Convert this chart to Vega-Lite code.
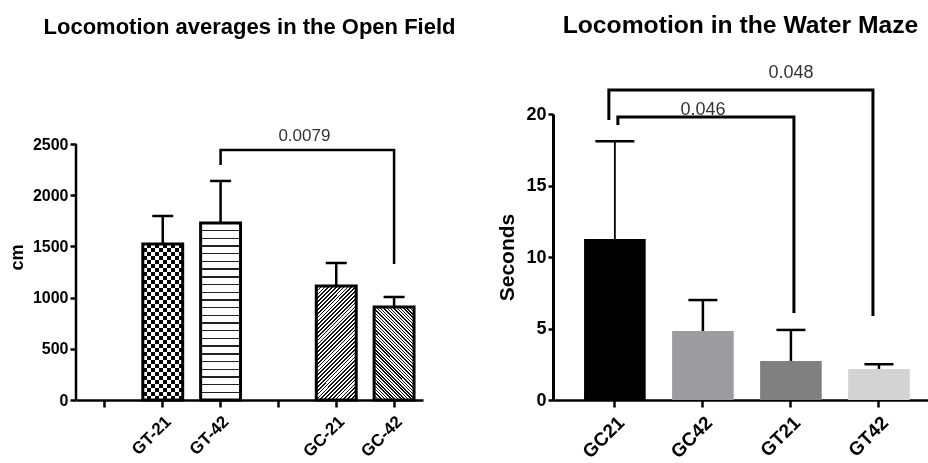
{
"$schema":"https://vega.github.io/schema/vega-lite/v6.json",
"padding":{"left":8,"top":13,"right":0,"bottom":0},
"background":"white",
"spacing":130,
"bounds":"flush",
"config":{"view":{"stroke":null},"font":"Liberation Sans",
"title":{"font":"Liberation Sans","fontWeight":"bold","color":"#000","anchor":"middle"},
"axis":{"domainColor":"#000","domainWidth":2.5,"tickColor":"#000","tickWidth":2.5,"labelColor":"#000","labelFontWeight":"bold","titleFontWeight":"bold","titleColor":"#000","labelFont":"Liberation Sans","titleFont":"Liberation Sans","grid":false},
"text":{"font":"Liberation Sans"}},
"hconcat":[
{
"width":347,"height":286,
"title":{"text":"Locomotion averages in the Open Field","fontSize":22,"offset":75},
"data":{"values":[
{"group":"GT-21","mean":1523,"upper":1797},
{"group":"GT-42","mean":1729,"upper":2139},
{"group":"GC-21","mean":1113,"upper":1338},
{"group":"GC-42","mean":908,"upper":1006}]},
"encoding":{"x":{"field":"group","type":"nominal","sort":null,"scale":{"domain":["gap1","GT-21","GT-42","gap2","GC-21","GC-42"],"paddingInner":0.31,"paddingOuter":0.155},"axis":{"title":null,"labelAngle":-45,"labelFontSize":17,"tickSize":7,"labelPadding":6,"labelExpr":"indexof(datum.value, 'gap') === 0 ? '' : datum.value"}}},
"resolve":{"axis":{"y":"independent"}},
"layer":[
{"data":{"values":[{"lo":0,"hi":2500}]},"mark":{"type":"rule","strokeWidth":2.5,"color":"#000"},
"encoding":{"x":{"value":0},"y":{"field":"lo","type":"quantitative","scale":{"domain":[0,2793]},"axis":{"title":"cm","values":[0,500,1000,1500,2000,2500],"format":"d","domain":false,"labelFontSize":16,"titleFontSize":18,"tickSize":6,"labelPadding":2,"titlePadding":6}},"y2":{"field":"hi"}}},
{"encoding":{"y":{"field":"mean","type":"quantitative","scale":{"domain":[0,2793]},"axis":null}},
"resolve":{"axis":{"y":"independent"}},
"layer":[
{"transform":[{"filter":"datum.group === 'GT-21'"}],"mark":{"type":"bar","fill":{"gradient":"linear","x1":0,"y1":0,"x2":1,"y2":0,"stops":[{"offset":0,"color":"#000"},{"offset":0.1,"color":"#000"},{"offset":0.1,"color":"#fff"},{"offset":0.2,"color":"#fff"},{"offset":0.2,"color":"#000"},{"offset":0.3,"color":"#000"},{"offset":0.3,"color":"#fff"},{"offset":0.4,"color":"#fff"},{"offset":0.4,"color":"#000"},{"offset":0.5,"color":"#000"},{"offset":0.5,"color":"#fff"},{"offset":0.6,"color":"#fff"},{"offset":0.6,"color":"#000"},{"offset":0.7,"color":"#000"},{"offset":0.7,"color":"#fff"},{"offset":0.8,"color":"#fff"},{"offset":0.8,"color":"#000"},{"offset":0.9,"color":"#000"},{"offset":0.9,"color":"#fff"},{"offset":1,"color":"#fff"}]}}},
{"transform":[{"filter":"datum.group === 'GT-21'"}],"mark":{"type":"bar","blend":"difference","fill":{"gradient":"linear","x1":0,"y1":0,"x2":0,"y2":1,"stops":[
{"offset":0,"color":"#fff"},{"offset":0.0256,"color":"#fff"},
{"offset":0.0256,"color":"#000"},{"offset":0.0513,"color":"#000"},
{"offset":0.0513,"color":"#fff"},{"offset":0.0769,"color":"#fff"},
{"offset":0.0769,"color":"#000"},{"offset":0.1026,"color":"#000"},
{"offset":0.1026,"color":"#fff"},{"offset":0.1282,"color":"#fff"},
{"offset":0.1282,"color":"#000"},{"offset":0.1538,"color":"#000"},
{"offset":0.1538,"color":"#fff"},{"offset":0.1795,"color":"#fff"},
{"offset":0.1795,"color":"#000"},{"offset":0.2051,"color":"#000"},
{"offset":0.2051,"color":"#fff"},{"offset":0.2308,"color":"#fff"},
{"offset":0.2308,"color":"#000"},{"offset":0.2564,"color":"#000"},
{"offset":0.2564,"color":"#fff"},{"offset":0.2821,"color":"#fff"},
{"offset":0.2821,"color":"#000"},{"offset":0.3077,"color":"#000"},
{"offset":0.3077,"color":"#fff"},{"offset":0.3333,"color":"#fff"},
{"offset":0.3333,"color":"#000"},{"offset":0.359,"color":"#000"},
{"offset":0.359,"color":"#fff"},{"offset":0.3846,"color":"#fff"},
{"offset":0.3846,"color":"#000"},{"offset":0.4103,"color":"#000"},
{"offset":0.4103,"color":"#fff"},{"offset":0.4359,"color":"#fff"},
{"offset":0.4359,"color":"#000"},{"offset":0.4615,"color":"#000"},
{"offset":0.4615,"color":"#fff"},{"offset":0.4872,"color":"#fff"},
{"offset":0.4872,"color":"#000"},{"offset":0.5128,"color":"#000"},
{"offset":0.5128,"color":"#fff"},{"offset":0.5385,"color":"#fff"},
{"offset":0.5385,"color":"#000"},{"offset":0.5641,"color":"#000"},
{"offset":0.5641,"color":"#fff"},{"offset":0.5897,"color":"#fff"},
{"offset":0.5897,"color":"#000"},{"offset":0.6154,"color":"#000"},
{"offset":0.6154,"color":"#fff"},{"offset":0.641,"color":"#fff"},
{"offset":0.641,"color":"#000"},{"offset":0.6667,"color":"#000"},
{"offset":0.6667,"color":"#fff"},{"offset":0.6923,"color":"#fff"},
{"offset":0.6923,"color":"#000"},{"offset":0.7179,"color":"#000"},
{"offset":0.7179,"color":"#fff"},{"offset":0.7436,"color":"#fff"},
{"offset":0.7436,"color":"#000"},{"offset":0.7692,"color":"#000"},
{"offset":0.7692,"color":"#fff"},{"offset":0.7949,"color":"#fff"},
{"offset":0.7949,"color":"#000"},{"offset":0.8205,"color":"#000"},
{"offset":0.8205,"color":"#fff"},{"offset":0.8462,"color":"#fff"},
{"offset":0.8462,"color":"#000"},{"offset":0.8718,"color":"#000"},
{"offset":0.8718,"color":"#fff"},{"offset":0.8974,"color":"#fff"},
{"offset":0.8974,"color":"#000"},{"offset":0.9231,"color":"#000"},
{"offset":0.9231,"color":"#fff"},{"offset":0.9487,"color":"#fff"},
{"offset":0.9487,"color":"#000"},{"offset":0.9744,"color":"#000"},
{"offset":0.9744,"color":"#fff"},{"offset":1,"color":"#fff"}]}}},
{"transform":[{"filter":"datum.group === 'GT-42'"}],"mark":{"type":"bar","fill":{"gradient":"linear","x1":0,"y1":0,"x2":0,"y2":1,"stops":[
{"offset":0,"color":"#fff"},
{"offset":0.0395,"color":"#fff"},{"offset":0.0395,"color":"#222"},{"offset":0.0475,"color":"#222"},{"offset":0.0475,"color":"#fff"},
{"offset":0.083,"color":"#fff"},{"offset":0.083,"color":"#222"},{"offset":0.091,"color":"#222"},{"offset":0.091,"color":"#fff"},
{"offset":0.1264,"color":"#fff"},{"offset":0.1264,"color":"#222"},{"offset":0.1344,"color":"#222"},{"offset":0.1344,"color":"#fff"},
{"offset":0.1699,"color":"#fff"},{"offset":0.1699,"color":"#222"},{"offset":0.1779,"color":"#222"},{"offset":0.1779,"color":"#fff"},
{"offset":0.2134,"color":"#fff"},{"offset":0.2134,"color":"#222"},{"offset":0.2214,"color":"#222"},{"offset":0.2214,"color":"#fff"},
{"offset":0.2569,"color":"#fff"},{"offset":0.2569,"color":"#222"},{"offset":0.2649,"color":"#222"},{"offset":0.2649,"color":"#fff"},
{"offset":0.3003,"color":"#fff"},{"offset":0.3003,"color":"#222"},{"offset":0.3083,"color":"#222"},{"offset":0.3083,"color":"#fff"},
{"offset":0.3438,"color":"#fff"},{"offset":0.3438,"color":"#222"},{"offset":0.3518,"color":"#222"},{"offset":0.3518,"color":"#fff"},
{"offset":0.3873,"color":"#fff"},{"offset":0.3873,"color":"#222"},{"offset":0.3953,"color":"#222"},{"offset":0.3953,"color":"#fff"},
{"offset":0.4308,"color":"#fff"},{"offset":0.4308,"color":"#222"},{"offset":0.4388,"color":"#222"},{"offset":0.4388,"color":"#fff"},
{"offset":0.4743,"color":"#fff"},{"offset":0.4743,"color":"#222"},{"offset":0.4823,"color":"#222"},{"offset":0.4823,"color":"#fff"},
{"offset":0.5177,"color":"#fff"},{"offset":0.5177,"color":"#222"},{"offset":0.5257,"color":"#222"},{"offset":0.5257,"color":"#fff"},
{"offset":0.5612,"color":"#fff"},{"offset":0.5612,"color":"#222"},{"offset":0.5692,"color":"#222"},{"offset":0.5692,"color":"#fff"},
{"offset":0.6047,"color":"#fff"},{"offset":0.6047,"color":"#222"},{"offset":0.6127,"color":"#222"},{"offset":0.6127,"color":"#fff"},
{"offset":0.6482,"color":"#fff"},{"offset":0.6482,"color":"#222"},{"offset":0.6562,"color":"#222"},{"offset":0.6562,"color":"#fff"},
{"offset":0.6917,"color":"#fff"},{"offset":0.6917,"color":"#222"},{"offset":0.6997,"color":"#222"},{"offset":0.6997,"color":"#fff"},
{"offset":0.7351,"color":"#fff"},{"offset":0.7351,"color":"#222"},{"offset":0.7431,"color":"#222"},{"offset":0.7431,"color":"#fff"},
{"offset":0.7786,"color":"#fff"},{"offset":0.7786,"color":"#222"},{"offset":0.7866,"color":"#222"},{"offset":0.7866,"color":"#fff"},
{"offset":0.8221,"color":"#fff"},{"offset":0.8221,"color":"#222"},{"offset":0.8301,"color":"#222"},{"offset":0.8301,"color":"#fff"},
{"offset":0.8656,"color":"#fff"},{"offset":0.8656,"color":"#222"},{"offset":0.8736,"color":"#222"},{"offset":0.8736,"color":"#fff"},
{"offset":0.909,"color":"#fff"},{"offset":0.909,"color":"#222"},{"offset":0.917,"color":"#222"},{"offset":0.917,"color":"#fff"},
{"offset":0.9525,"color":"#fff"},{"offset":0.9525,"color":"#222"},{"offset":0.9605,"color":"#222"},{"offset":0.9605,"color":"#fff"},
{"offset":1,"color":"#fff"}]}}},
{"transform":[{"filter":"datum.group === 'GC-21'"}],"mark":{"type":"bar","fill":{"gradient":"linear","x1":0,"y1":0,"x2":0.422,"y2":1.2028,"stops":[
{"offset":0,"color":"#fff"},
{"offset":0.007,"color":"#fff"},{"offset":0.007,"color":"#111"},{"offset":0.018,"color":"#111"},{"offset":0.018,"color":"#fff"},
{"offset":0.032,"color":"#fff"},{"offset":0.032,"color":"#111"},{"offset":0.043,"color":"#111"},{"offset":0.043,"color":"#fff"},
{"offset":0.057,"color":"#fff"},{"offset":0.057,"color":"#111"},{"offset":0.068,"color":"#111"},{"offset":0.068,"color":"#fff"},
{"offset":0.082,"color":"#fff"},{"offset":0.082,"color":"#111"},{"offset":0.093,"color":"#111"},{"offset":0.093,"color":"#fff"},
{"offset":0.107,"color":"#fff"},{"offset":0.107,"color":"#111"},{"offset":0.118,"color":"#111"},{"offset":0.118,"color":"#fff"},
{"offset":0.132,"color":"#fff"},{"offset":0.132,"color":"#111"},{"offset":0.143,"color":"#111"},{"offset":0.143,"color":"#fff"},
{"offset":0.157,"color":"#fff"},{"offset":0.157,"color":"#111"},{"offset":0.168,"color":"#111"},{"offset":0.168,"color":"#fff"},
{"offset":0.182,"color":"#fff"},{"offset":0.182,"color":"#111"},{"offset":0.193,"color":"#111"},{"offset":0.193,"color":"#fff"},
{"offset":0.207,"color":"#fff"},{"offset":0.207,"color":"#111"},{"offset":0.218,"color":"#111"},{"offset":0.218,"color":"#fff"},
{"offset":0.232,"color":"#fff"},{"offset":0.232,"color":"#111"},{"offset":0.243,"color":"#111"},{"offset":0.243,"color":"#fff"},
{"offset":0.257,"color":"#fff"},{"offset":0.257,"color":"#111"},{"offset":0.268,"color":"#111"},{"offset":0.268,"color":"#fff"},
{"offset":0.282,"color":"#fff"},{"offset":0.282,"color":"#111"},{"offset":0.293,"color":"#111"},{"offset":0.293,"color":"#fff"},
{"offset":0.307,"color":"#fff"},{"offset":0.307,"color":"#111"},{"offset":0.318,"color":"#111"},{"offset":0.318,"color":"#fff"},
{"offset":0.332,"color":"#fff"},{"offset":0.332,"color":"#111"},{"offset":0.343,"color":"#111"},{"offset":0.343,"color":"#fff"},
{"offset":0.357,"color":"#fff"},{"offset":0.357,"color":"#111"},{"offset":0.368,"color":"#111"},{"offset":0.368,"color":"#fff"},
{"offset":0.382,"color":"#fff"},{"offset":0.382,"color":"#111"},{"offset":0.393,"color":"#111"},{"offset":0.393,"color":"#fff"},
{"offset":0.407,"color":"#fff"},{"offset":0.407,"color":"#111"},{"offset":0.418,"color":"#111"},{"offset":0.418,"color":"#fff"},
{"offset":0.432,"color":"#fff"},{"offset":0.432,"color":"#111"},{"offset":0.443,"color":"#111"},{"offset":0.443,"color":"#fff"},
{"offset":0.457,"color":"#fff"},{"offset":0.457,"color":"#111"},{"offset":0.468,"color":"#111"},{"offset":0.468,"color":"#fff"},
{"offset":0.482,"color":"#fff"},{"offset":0.482,"color":"#111"},{"offset":0.493,"color":"#111"},{"offset":0.493,"color":"#fff"},
{"offset":0.507,"color":"#fff"},{"offset":0.507,"color":"#111"},{"offset":0.518,"color":"#111"},{"offset":0.518,"color":"#fff"},
{"offset":0.532,"color":"#fff"},{"offset":0.532,"color":"#111"},{"offset":0.543,"color":"#111"},{"offset":0.543,"color":"#fff"},
{"offset":0.557,"color":"#fff"},{"offset":0.557,"color":"#111"},{"offset":0.568,"color":"#111"},{"offset":0.568,"color":"#fff"},
{"offset":0.582,"color":"#fff"},{"offset":0.582,"color":"#111"},{"offset":0.593,"color":"#111"},{"offset":0.593,"color":"#fff"},
{"offset":0.607,"color":"#fff"},{"offset":0.607,"color":"#111"},{"offset":0.618,"color":"#111"},{"offset":0.618,"color":"#fff"},
{"offset":0.632,"color":"#fff"},{"offset":0.632,"color":"#111"},{"offset":0.643,"color":"#111"},{"offset":0.643,"color":"#fff"},
{"offset":0.657,"color":"#fff"},{"offset":0.657,"color":"#111"},{"offset":0.668,"color":"#111"},{"offset":0.668,"color":"#fff"},
{"offset":0.682,"color":"#fff"},{"offset":0.682,"color":"#111"},{"offset":0.693,"color":"#111"},{"offset":0.693,"color":"#fff"},
{"offset":0.707,"color":"#fff"},{"offset":0.707,"color":"#111"},{"offset":0.718,"color":"#111"},{"offset":0.718,"color":"#fff"},
{"offset":0.732,"color":"#fff"},{"offset":0.732,"color":"#111"},{"offset":0.743,"color":"#111"},{"offset":0.743,"color":"#fff"},
{"offset":0.757,"color":"#fff"},{"offset":0.757,"color":"#111"},{"offset":0.768,"color":"#111"},{"offset":0.768,"color":"#fff"},
{"offset":0.782,"color":"#fff"},{"offset":0.782,"color":"#111"},{"offset":0.793,"color":"#111"},{"offset":0.793,"color":"#fff"},
{"offset":0.807,"color":"#fff"},{"offset":0.807,"color":"#111"},{"offset":0.818,"color":"#111"},{"offset":0.818,"color":"#fff"},
{"offset":0.832,"color":"#fff"},{"offset":0.832,"color":"#111"},{"offset":0.843,"color":"#111"},{"offset":0.843,"color":"#fff"},
{"offset":0.857,"color":"#fff"},{"offset":0.857,"color":"#111"},{"offset":0.868,"color":"#111"},{"offset":0.868,"color":"#fff"},
{"offset":0.882,"color":"#fff"},{"offset":0.882,"color":"#111"},{"offset":0.893,"color":"#111"},{"offset":0.893,"color":"#fff"},
{"offset":0.907,"color":"#fff"},{"offset":0.907,"color":"#111"},{"offset":0.918,"color":"#111"},{"offset":0.918,"color":"#fff"},
{"offset":0.932,"color":"#fff"},{"offset":0.932,"color":"#111"},{"offset":0.943,"color":"#111"},{"offset":0.943,"color":"#fff"},
{"offset":0.957,"color":"#fff"},{"offset":0.957,"color":"#111"},{"offset":0.968,"color":"#111"},{"offset":0.968,"color":"#fff"},
{"offset":0.982,"color":"#fff"},{"offset":0.982,"color":"#111"},{"offset":0.993,"color":"#111"},{"offset":0.993,"color":"#fff"},
{"offset":1,"color":"#fff"}]}}},
{"transform":[{"filter":"datum.group === 'GC-42'"}],"mark":{"type":"bar","fill":{"gradient":"linear","x1":0,"y1":1,"x2":0.5191,"y2":-0.2068,"stops":[
{"offset":0,"color":"#fff"},
{"offset":0.007,"color":"#fff"},{"offset":0.007,"color":"#111"},{"offset":0.018,"color":"#111"},{"offset":0.018,"color":"#fff"},
{"offset":0.032,"color":"#fff"},{"offset":0.032,"color":"#111"},{"offset":0.043,"color":"#111"},{"offset":0.043,"color":"#fff"},
{"offset":0.057,"color":"#fff"},{"offset":0.057,"color":"#111"},{"offset":0.068,"color":"#111"},{"offset":0.068,"color":"#fff"},
{"offset":0.082,"color":"#fff"},{"offset":0.082,"color":"#111"},{"offset":0.093,"color":"#111"},{"offset":0.093,"color":"#fff"},
{"offset":0.107,"color":"#fff"},{"offset":0.107,"color":"#111"},{"offset":0.118,"color":"#111"},{"offset":0.118,"color":"#fff"},
{"offset":0.132,"color":"#fff"},{"offset":0.132,"color":"#111"},{"offset":0.143,"color":"#111"},{"offset":0.143,"color":"#fff"},
{"offset":0.157,"color":"#fff"},{"offset":0.157,"color":"#111"},{"offset":0.168,"color":"#111"},{"offset":0.168,"color":"#fff"},
{"offset":0.182,"color":"#fff"},{"offset":0.182,"color":"#111"},{"offset":0.193,"color":"#111"},{"offset":0.193,"color":"#fff"},
{"offset":0.207,"color":"#fff"},{"offset":0.207,"color":"#111"},{"offset":0.218,"color":"#111"},{"offset":0.218,"color":"#fff"},
{"offset":0.232,"color":"#fff"},{"offset":0.232,"color":"#111"},{"offset":0.243,"color":"#111"},{"offset":0.243,"color":"#fff"},
{"offset":0.257,"color":"#fff"},{"offset":0.257,"color":"#111"},{"offset":0.268,"color":"#111"},{"offset":0.268,"color":"#fff"},
{"offset":0.282,"color":"#fff"},{"offset":0.282,"color":"#111"},{"offset":0.293,"color":"#111"},{"offset":0.293,"color":"#fff"},
{"offset":0.307,"color":"#fff"},{"offset":0.307,"color":"#111"},{"offset":0.318,"color":"#111"},{"offset":0.318,"color":"#fff"},
{"offset":0.332,"color":"#fff"},{"offset":0.332,"color":"#111"},{"offset":0.343,"color":"#111"},{"offset":0.343,"color":"#fff"},
{"offset":0.357,"color":"#fff"},{"offset":0.357,"color":"#111"},{"offset":0.368,"color":"#111"},{"offset":0.368,"color":"#fff"},
{"offset":0.382,"color":"#fff"},{"offset":0.382,"color":"#111"},{"offset":0.393,"color":"#111"},{"offset":0.393,"color":"#fff"},
{"offset":0.407,"color":"#fff"},{"offset":0.407,"color":"#111"},{"offset":0.418,"color":"#111"},{"offset":0.418,"color":"#fff"},
{"offset":0.432,"color":"#fff"},{"offset":0.432,"color":"#111"},{"offset":0.443,"color":"#111"},{"offset":0.443,"color":"#fff"},
{"offset":0.457,"color":"#fff"},{"offset":0.457,"color":"#111"},{"offset":0.468,"color":"#111"},{"offset":0.468,"color":"#fff"},
{"offset":0.482,"color":"#fff"},{"offset":0.482,"color":"#111"},{"offset":0.493,"color":"#111"},{"offset":0.493,"color":"#fff"},
{"offset":0.507,"color":"#fff"},{"offset":0.507,"color":"#111"},{"offset":0.518,"color":"#111"},{"offset":0.518,"color":"#fff"},
{"offset":0.532,"color":"#fff"},{"offset":0.532,"color":"#111"},{"offset":0.543,"color":"#111"},{"offset":0.543,"color":"#fff"},
{"offset":0.557,"color":"#fff"},{"offset":0.557,"color":"#111"},{"offset":0.568,"color":"#111"},{"offset":0.568,"color":"#fff"},
{"offset":0.582,"color":"#fff"},{"offset":0.582,"color":"#111"},{"offset":0.593,"color":"#111"},{"offset":0.593,"color":"#fff"},
{"offset":0.607,"color":"#fff"},{"offset":0.607,"color":"#111"},{"offset":0.618,"color":"#111"},{"offset":0.618,"color":"#fff"},
{"offset":0.632,"color":"#fff"},{"offset":0.632,"color":"#111"},{"offset":0.643,"color":"#111"},{"offset":0.643,"color":"#fff"},
{"offset":0.657,"color":"#fff"},{"offset":0.657,"color":"#111"},{"offset":0.668,"color":"#111"},{"offset":0.668,"color":"#fff"},
{"offset":0.682,"color":"#fff"},{"offset":0.682,"color":"#111"},{"offset":0.693,"color":"#111"},{"offset":0.693,"color":"#fff"},
{"offset":0.707,"color":"#fff"},{"offset":0.707,"color":"#111"},{"offset":0.718,"color":"#111"},{"offset":0.718,"color":"#fff"},
{"offset":0.732,"color":"#fff"},{"offset":0.732,"color":"#111"},{"offset":0.743,"color":"#111"},{"offset":0.743,"color":"#fff"},
{"offset":0.757,"color":"#fff"},{"offset":0.757,"color":"#111"},{"offset":0.768,"color":"#111"},{"offset":0.768,"color":"#fff"},
{"offset":0.782,"color":"#fff"},{"offset":0.782,"color":"#111"},{"offset":0.793,"color":"#111"},{"offset":0.793,"color":"#fff"},
{"offset":0.807,"color":"#fff"},{"offset":0.807,"color":"#111"},{"offset":0.818,"color":"#111"},{"offset":0.818,"color":"#fff"},
{"offset":0.832,"color":"#fff"},{"offset":0.832,"color":"#111"},{"offset":0.843,"color":"#111"},{"offset":0.843,"color":"#fff"},
{"offset":0.857,"color":"#fff"},{"offset":0.857,"color":"#111"},{"offset":0.868,"color":"#111"},{"offset":0.868,"color":"#fff"},
{"offset":0.882,"color":"#fff"},{"offset":0.882,"color":"#111"},{"offset":0.893,"color":"#111"},{"offset":0.893,"color":"#fff"},
{"offset":0.907,"color":"#fff"},{"offset":0.907,"color":"#111"},{"offset":0.918,"color":"#111"},{"offset":0.918,"color":"#fff"},
{"offset":0.932,"color":"#fff"},{"offset":0.932,"color":"#111"},{"offset":0.943,"color":"#111"},{"offset":0.943,"color":"#fff"},
{"offset":0.957,"color":"#fff"},{"offset":0.957,"color":"#111"},{"offset":0.968,"color":"#111"},{"offset":0.968,"color":"#fff"},
{"offset":0.982,"color":"#fff"},{"offset":0.982,"color":"#111"},{"offset":0.993,"color":"#111"},{"offset":0.993,"color":"#fff"},
{"offset":1,"color":"#fff"}]}}},
{"mark":{"type":"bar","fillOpacity":0,"stroke":"#000","strokeWidth":3}},
{"mark":{"type":"rule","strokeWidth":2.5,"color":"#000"},"encoding":{"y2":{"field":"upper"}}},
{"mark":{"type":"tick","size":21,"thickness":2.5,"color":"#000","opacity":1},"encoding":{"y":{"field":"upper","type":"quantitative","scale":{"domain":[0,2793]},"axis":null}}}
]},
{"data":{"values":[{"group":"GT-42","by":2295,"o":1},{"group":"GT-42","by":2441,"o":2},{"group":"GC-42","by":2441,"o":3},{"group":"GC-42","by":1328,"o":4}]},
"mark":{"type":"line","strokeWidth":2.5,"color":"#000"},
"encoding":{"y":{"field":"by","type":"quantitative","scale":{"domain":[0,2793]},"axis":null},"order":{"field":"o","type":"quantitative"}}},
{"data":{"values":[{"group":"gap2","ty":2578,"label":"0.0079"}]},
"mark":{"type":"text","fontSize":17,"dx":26,"color":"#333"},
"encoding":{"y":{"field":"ty","type":"quantitative","scale":{"domain":[0,2793]},"axis":null},"text":{"field":"label"}}}
]
},
{
"width":375,"height":286,
"title":{"text":"Locomotion in the Water Maze","fontSize":24.7,"offset":26},
"data":{"values":[
{"group":"GC21","mean":11.26,"upper":18.1},
{"group":"GC42","mean":4.83,"upper":6.99},
{"group":"GT21","mean":2.73,"upper":4.9},
{"group":"GT42","mean":2.17,"upper":2.5}]},
"encoding":{"x":{"field":"group","type":"nominal","sort":null,"scale":{"domain":["GC21","GC42","GT21","GT42"],"paddingInner":0.3,"paddingOuter":0.28,"align":0.63},"axis":{"title":null,"labelAngle":-45,"labelFontSize":19,"tickSize":7,"labelPadding":6}}},
"resolve":{"axis":{"y":"independent"}},
"layer":[
{"mark":{"type":"bar"},
"encoding":{"y":{"field":"mean","type":"quantitative","scale":{"domain":[0,20]},"axis":{"title":"Seconds","values":[0,5,10,15,20],"labelFontSize":18,"titleFontSize":21,"tickSize":5,"labelPadding":2,"titlePadding":8,"domainWidth":3}},
"fill":{"field":"group","type":"nominal","scale":{"domain":["GC21","GC42","GT21","GT42"],"range":["#000000","#9d9ca1","#808080","#d3d3d3"]},"legend":null}}},
{"transform":[{"filter":"datum.group !== 'GC21'"}],"mark":{"type":"rule","strokeWidth":2.5,"color":"#000"},
"encoding":{"y":{"field":"mean","type":"quantitative","scale":{"domain":[0,20]},"axis":null},"y2":{"field":"upper"}}},
{"transform":[{"filter":"datum.group === 'GC21'"}],"mark":{"type":"rule","strokeWidth":1.8,"color":"#000"},
"encoding":{"y":{"field":"mean","type":"quantitative","scale":{"domain":[0,20]},"axis":null},"y2":{"field":"upper"}}},
{"transform":[{"filter":"datum.group !== 'GC21'"}],"mark":{"type":"tick","size":29,"thickness":2.5,"color":"#000","opacity":1},
"encoding":{"y":{"field":"upper","type":"quantitative","scale":{"domain":[0,20]},"axis":null}}},
{"transform":[{"filter":"datum.group === 'GC21'"}],"mark":{"type":"tick","size":39,"thickness":2.5,"color":"#000","opacity":1},
"encoding":{"y":{"field":"upper","type":"quantitative","scale":{"domain":[0,20]},"axis":null}}},
{"data":{"values":[{"group":"GC21","by":19.58,"o":1},{"group":"GC21","by":21.68,"o":2},{"group":"GT42","by":21.68,"o":3},{"group":"GT42","by":5.87,"o":4}]},
"mark":{"type":"line","strokeWidth":3,"color":"#000","xOffset":-6},
"encoding":{"y":{"field":"by","type":"quantitative","scale":{"domain":[0,20]},"axis":null},"order":{"field":"o","type":"quantitative"}}},
{"data":{"values":[{"group":"GC21","by":19.23,"o":1},{"group":"GC21","by":19.79,"o":2},{"group":"GT21","by":19.79,"o":3},{"group":"GT21","by":6.08,"o":4}]},
"mark":{"type":"line","strokeWidth":3,"color":"#000","xOffset":3},
"encoding":{"y":{"field":"by","type":"quantitative","scale":{"domain":[0,20]},"axis":null},"order":{"field":"o","type":"quantitative"}}},
{"data":{"values":[{"group":"GT21","ty":22.87,"label":"0.048"},{"group":"GC42","ty":20.28,"label":"0.046"}]},
"mark":{"type":"text","fontSize":18,"color":"#333"},
"encoding":{"y":{"field":"ty","type":"quantitative","scale":{"domain":[0,20]},"axis":null},"text":{"field":"label"}}}
]
}
]
}
